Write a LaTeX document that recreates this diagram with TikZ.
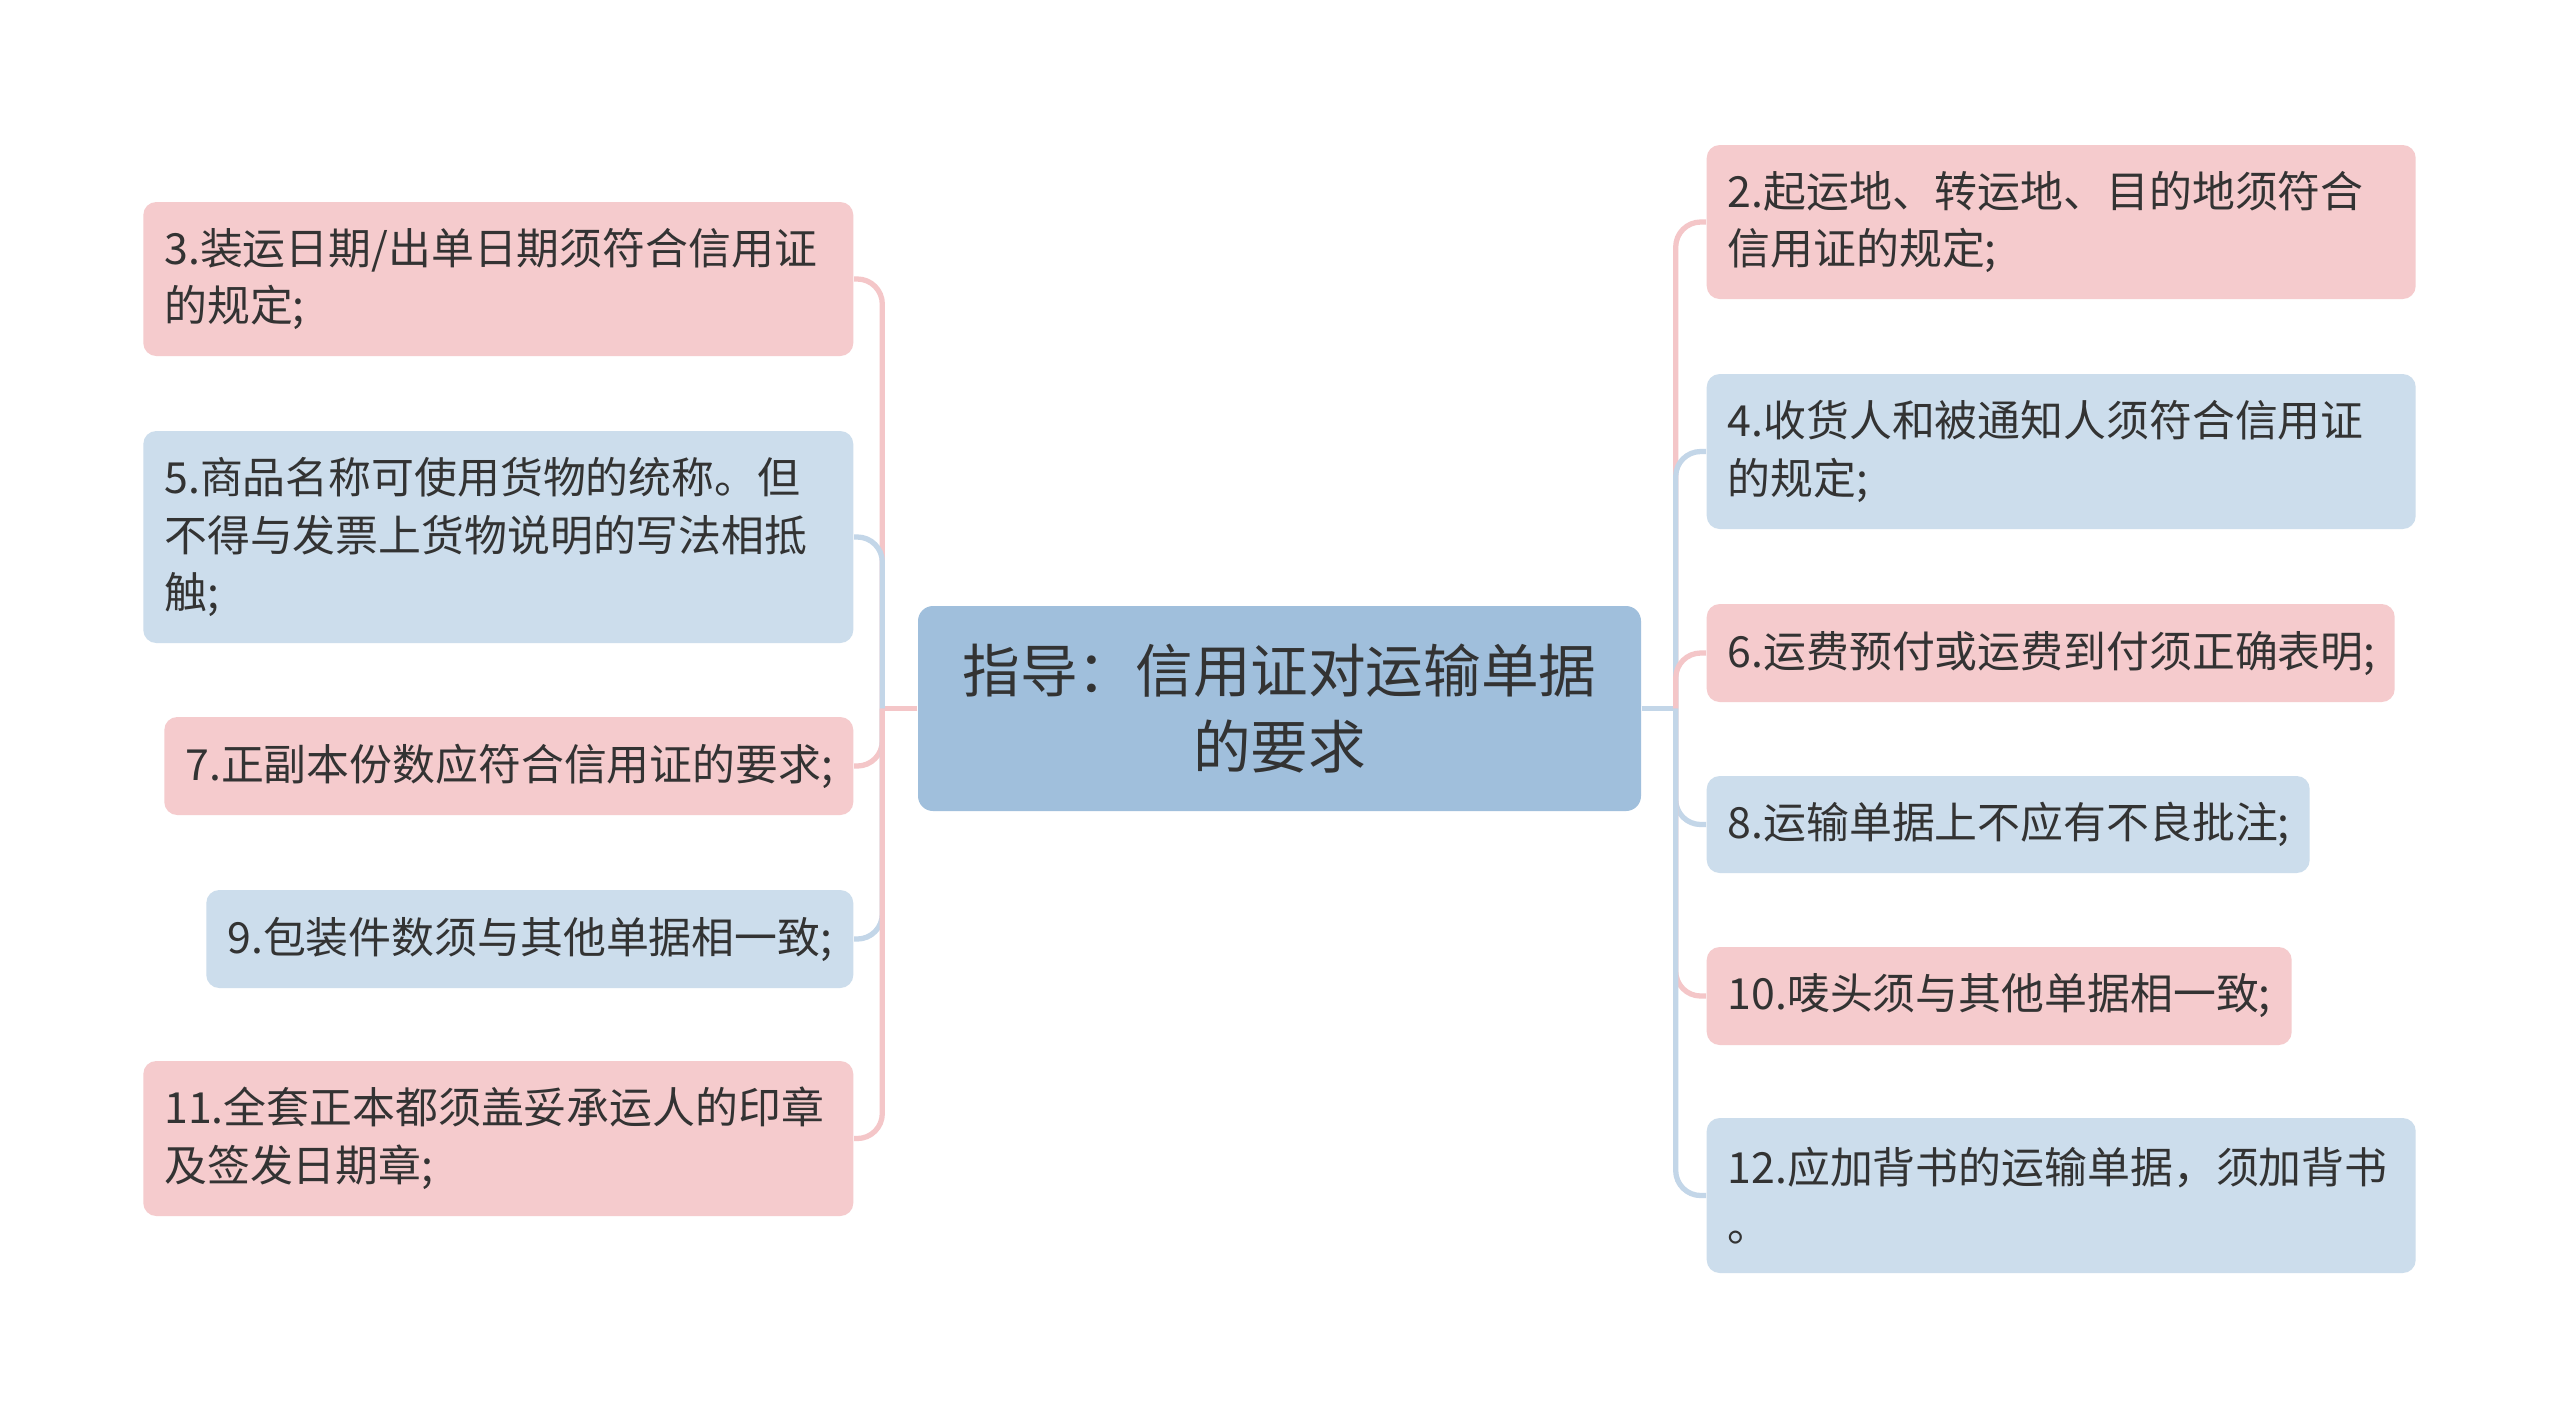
\documentclass[tikz,border=0pt]{standalone}
\usepackage{fontspec}
\setmainfont{Noto Sans CJK SC}
\usepackage{xcolor}
\usepackage{tikz}
\usetikzlibrary{calc}

\definecolor{pinkfill}{HTML}{F5CBCD}
\definecolor{bluefill}{HTML}{CCDDEC}
\definecolor{rootfill}{HTML}{A0BFDC}
\definecolor{pinkline}{HTML}{F4C6C8}
\definecolor{blueline}{HTML}{C3D6E8}
\definecolor{textgray}{HTML}{333333}

\begin{document}
\begin{tikzpicture}[
  leaf/.style={rounded corners=0.13cm, inner xsep=0.21cm, inner ysep=0pt, align=left,
    text=textgray, font=\fontsize{12.2pt}{16.4pt}\selectfont},
  pinkleaf/.style={leaf, fill=pinkfill},
  blueleaf/.style={leaf, fill=bluefill},
  rootbox/.style={rounded corners=0.15cm, fill=rootfill, text=textgray, align=center,
    font=\fontsize{16.4pt}{21.8pt}\selectfont},
  pinkedge/.style={draw=pinkline, line width=1.5pt, rounded corners=0.25cm},
  blueedge/.style={draw=blueline, line width=1.5pt, rounded corners=0.25cm}]
  \fill[white] (0,0) rectangle (25.6,-14.19);
  \useasboundingbox (0,0) rectangle (25.6,-14.19);
  % centre
  \node[rootbox, minimum width=7.23cm, minimum height=2.05cm] (root) at (12.795,-7.085)
    {指导：信用证对运输单据\\的要求};
  % left side
  \node[pinkleaf, anchor=east, text width=6.68cm, minimum height=1.54cm] (n3) at (8.54,-2.79)
    {3.装运日期/出单日期须符合信用证\\的规定;};
  \node[blueleaf, anchor=east, text width=6.68cm, minimum height=2.12cm] (n5) at (8.54,-5.37)
    {5.商品名称可使用货物的统称。但\\不得与发票上货物说明的写法相抵\\触;};
  \node[pinkleaf, anchor=east, text width=6.47cm, minimum height=0.98cm] (n7) at (8.54,-7.66)
    {7.正副本份数应符合信用证的要求;};
  \node[blueleaf, anchor=east, text width=6.05cm, minimum height=0.98cm] (n9) at (8.54,-9.39)
    {9.包装件数须与其他单据相一致;};
  \node[pinkleaf, anchor=east, text width=6.68cm, minimum height=1.55cm] (n11) at (8.54,-11.385)
    {11.全套正本都须盖妥承运人的印章\\及签发日期章;};
  % right side
  \node[pinkleaf, anchor=west, text width=6.67cm, minimum height=1.54cm] (n2) at (17.06,-2.22)
    {2.起运地、转运地、目的地须符合\\信用证的规定;};
  \node[blueleaf, anchor=west, text width=6.67cm, minimum height=1.55cm] (n4) at (17.06,-4.515)
    {4.收货人和被通知人须符合信用证\\的规定;};
  \node[pinkleaf, anchor=west, text width=6.46cm, minimum height=0.98cm] (n6) at (17.06,-6.53)
    {6.运费预付或运费到付须正确表明;};
  \node[blueleaf, anchor=west, text width=5.61cm, minimum height=0.97cm] (n8) at (17.06,-8.245)
    {8.运输单据上不应有不良批注;};
  \node[pinkleaf, anchor=west, text width=5.43cm, minimum height=0.98cm] (n10) at (17.06,-9.96)
    {10.唛头须与其他单据相一致;};
  \node[blueleaf, anchor=west, text width=6.67cm, minimum height=1.55cm] (n12) at (17.06,-11.955)
    {12.应加背书的运输单据，须加背书\\。};
  % branches
  \coordinate (lj) at ($(root.west)+(-0.35,0)$);
  \coordinate (rj) at ($(root.east)+(0.34,0)$);
  \draw[pinkedge] (root.west) -- (lj);
  \draw[blueedge] (root.east) -- (rj);
  \draw[pinkedge] (lj) |- (n3.east);
  \draw[blueedge] (lj) |- (n5.east);
  \draw[pinkedge] (lj) |- (n7.east);
  \draw[blueedge] (lj) |- (n9.east);
  \draw[pinkedge] (lj) |- (n11.east);
  \draw[pinkedge] (rj) |- (n2.west);
  \draw[blueedge] (rj) |- (n4.west);
  \draw[pinkedge] (rj) |- (n6.west);
  \draw[blueedge] (rj) |- (n8.west);
  \draw[pinkedge] (rj) |- (n10.west);
  \draw[blueedge] (rj) |- (n12.west);
\end{tikzpicture}
\end{document}
